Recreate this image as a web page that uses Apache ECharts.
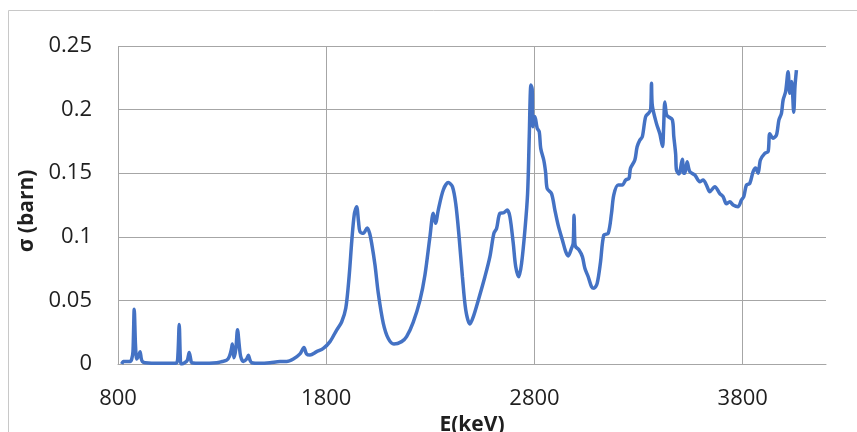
<!DOCTYPE html>
<html>
<head>
<meta charset="utf-8">
<script src="https://cdn.jsdelivr.net/npm/echarts@6/dist/echarts.min.js"></script>
<style>
html,body{margin:0;padding:0;background:#fff;}
#chart{width:857px;height:432px;}
</style>
</head>
<body>
<div id="chart"></div>
<script>
// Data
const energy = [818,826,834,858,866,872,878,884,890,898,906,912,917,930,1000,1060,1082,1088,1094,1099,1103,1120,1133,1142,1150,1154,1200,1274,1300,1322,1335,1345,1349,1353,1357,1366,1374,1382,1389,1402,1418,1426,1434,1442,1482,1530,1578,1610,1642,1674,1693,1705,1722,1754,1786,1818,1850,1874,1894,1910,1923,1935,1946,1955,1962,1978,1997,2008,2018,2034,2050,2074,2098,2125,2162,2186,2218,2250,2274,2298,2314,2325,2338,2362,2386,2406,2422,2438,2454,2470,2490,2506,2530,2562,2586,2605,2618,2634,2653,2669,2682,2698,2710,2725,2738,2754,2767,2775,2783,2789,2792,2802,2813,2823,2830,2845,2854,2861,2882,2898,2914,2934,2950,2962,2978,2986,2990,2994,2998,3014,3030,3042,3058,3074,3086,3101,3117,3133,3154,3170,3181,3202,3222,3238,3254,3261,3282,3293,3306,3318,3334,3350,3358,3362,3366,3386,3402,3415,3420,3426,3434,3442,3462,3469,3478,3482,3494,3510,3516,3522,3533,3546,3570,3594,3610,3626,3642,3666,3690,3706,3722,3738,3754,3778,3794,3805,3818,3834,3850,3862,3874,3885,3906,3922,3930,3946,3962,3974,3986,3994,4006,4018,4026,4035,4045,4051,4058];
const sigma = [0.000,0.002,0.002,0.002,0.004,0.010,0.043,0.015,0.004,0.006,0.0097,0.004,0.002,0.001,0.0005,0.0005,0.001,0.008,0.031,0.006,0.000,0.001,0.003,0.009,0.003,0.001,0.0005,0.001,0.002,0.003,0.006,0.012,0.0157,0.010,0.005,0.012,0.027,0.015,0.006,0.002,0.004,0.0068,0.003,0.001,0.0005,0.001,0.002,0.002,0.004,0.008,0.013,0.008,0.007,0.0097,0.0123,0.0176,0.0267,0.033,0.044,0.069,0.0975,0.118,0.1237,0.112,0.104,0.1027,0.107,0.103,0.095,0.078,0.0556,0.032,0.020,0.0157,0.0176,0.0215,0.033,0.050,0.070,0.100,0.1185,0.1106,0.121,0.1368,0.1426,0.1395,0.126,0.100,0.0686,0.0425,0.0314,0.037,0.050,0.0686,0.0844,0.1027,0.1066,0.1185,0.119,0.121,0.1158,0.095,0.0765,0.0686,0.079,0.105,0.134,0.179,0.2193,0.216,0.1866,0.1945,0.1853,0.1826,0.1695,0.160,0.150,0.138,0.134,0.121,0.109,0.0975,0.0883,0.085,0.091,0.095,0.117,0.095,0.0922,0.0896,0.0844,0.0752,0.0686,0.0608,0.0595,0.0634,0.080,0.1014,0.1027,0.1185,0.133,0.1407,0.1407,0.1447,0.146,0.1538,0.1604,0.1708,0.176,0.1787,0.1945,0.1976,0.200,0.2207,0.203,0.189,0.181,0.171,0.185,0.206,0.196,0.1945,0.192,0.179,0.165,0.1525,0.1494,0.161,0.150,0.150,0.159,0.1512,0.1486,0.1433,0.1447,0.1407,0.1355,0.1394,0.134,0.1315,0.126,0.1276,0.125,0.1237,0.129,0.1315,0.1407,0.142,0.1512,0.154,0.150,0.1604,0.1656,0.167,0.181,0.1775,0.180,0.192,0.197,0.2075,0.214,0.2298,0.2128,0.222,0.198,0.218,0.231];
const xTicks = [800,1800,2800,3800];
const yTicks = [0,0.05,0.1,0.15,0.2,0.25];

const points = energy.map((e,i)=>[e, sigma[i]]);
const chart = echarts.init(document.getElementById('chart'), null, {renderer:'canvas'});
const fontFam = '"Open Sans", sans-serif';
chart.setOption({
  animation:false,
  backgroundColor:'#ffffff',
  graphic:[{
    type:'rect', silent:true, z:-10,
    shape:{x:8.5,y:10.5,width:1000,height:1000},
    style:{fill:'none',stroke:'#c8c8c8',lineWidth:1}
  }],
  grid:{left:118,right:31,top:46,bottom:68,outerBoundsMode:'none',containLabel:false},
  xAxis:{
    type:'value', min:800, max:4200,
    name:'E(keV)', nameLocation:'middle', nameGap:46,
    nameTextStyle:{fontFamily:fontFam,fontWeight:'bold',fontSize:21,color:'#1f1f1f'},
    axisLine:{show:true,lineStyle:{color:'#a6a6a6',width:1}},
    axisTick:{show:false,customValues:xTicks},
    axisLabel:{customValues:xTicks,fontFamily:fontFam,fontSize:22,color:'#1f1f1f',margin:24,
      formatter:v=>String(v)},
    splitLine:{show:true,lineStyle:{color:'#a6a6a6',width:1}}
  },
  yAxis:{
    type:'value', min:0, max:0.25, interval:0.05,
    name:'σ (barn)', nameLocation:'middle', nameGap:71,
    nameTextStyle:{fontFamily:fontFam,fontWeight:'bold',fontSize:21,color:'#1f1f1f',padding:[0,12,0,0]},
    axisLine:{show:false},
    axisTick:{show:false},
    axisLabel:{customValues:yTicks,fontFamily:fontFam,fontSize:22,color:'#1f1f1f',margin:26,
      formatter:v=>String(+v.toFixed(2))},
    splitLine:{show:true,lineStyle:{color:'#a6a6a6',width:1}}
  },
  series:[{
    type:'line', data:points, showSymbol:false, smooth:0.3,
    lineStyle:{color:'#4472C4',width:3.5},
    itemStyle:{color:'#4472C4'}
  }]
});
</script>
</body>
</html>
